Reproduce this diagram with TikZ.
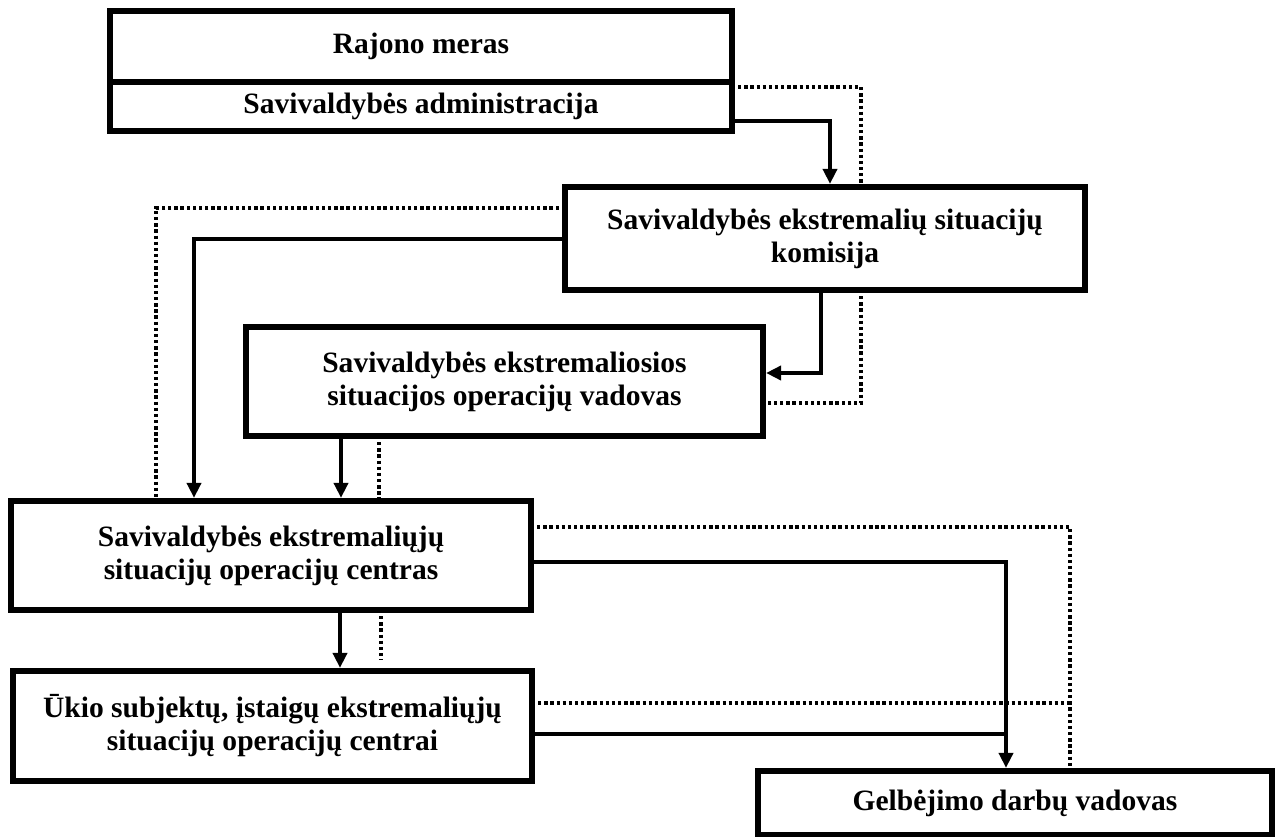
\documentclass[tikz,border=0pt]{standalone}
\usepackage{fontspec}
\setmainfont{Liberation Serif}
\usetikzlibrary{arrows.meta}

\begin{document}
\begin{tikzpicture}[x=0.02cm, y=-0.02cm,
  box/.style={draw, line width=3.8pt, inner sep=0pt, outer sep=0pt, align=center,
    font=\fontsize{16.8}{18.8}\selectfont\bfseries},
  link/.style={line width=2pt, -{Triangle[length=8.5pt,width=8pt]}, shorten >=1.8pt},
  dotlink/.style={line width=2pt, dash pattern=on 1.9pt off 1.6pt}]
\useasboundingbox (0,0) rectangle (1281,837);
% boxes
\node[box, minimum width=12.44cm, minimum height=1.42cm] (mer) at (421,46.5) {Rajono meras};
\node[box, minimum width=12.44cm, minimum height=0.98cm] (adm) at (421,106.5) {Savivaldybės administracija};
\node[box, minimum width=10.4cm, minimum height=2.06cm] (kom) at (825,238.5) {Savivaldybės ekstremalių situacijų\\komisija};
\node[box, minimum width=10.34cm, minimum height=2.18cm] (vad) at (504.5,381.5) {Savivaldybės ekstremaliosios\\situacijos operacijų vadovas};
\node[box, minimum width=10.4cm, minimum height=2.18cm] (cen) at (271,555.5) {Savivaldybės ekstremaliųjų\\situacijų operacijų centras};
\node[box, minimum width=10.38cm, minimum height=2.2cm] (uki) at (272.5,726) {Ūkio subjektų, įstaigų ekstremaliųjų\\situacijų operacijų centrai};
\node[box, minimum width=10.28cm, minimum height=1.28cm] (gel) at (1015,803) {Gelbėjimo darbų vadovas};
% turning points
\coordinate (t1) at (830,121);
\coordinate (t2) at (861,87);
\coordinate (t3) at (156,208);
\coordinate (t4) at (194,239);
\coordinate (t5) at (821,373);
\coordinate (t6) at (861,403);
\coordinate (t7) at (341,470);
\coordinate (t8) at (379,470);
\coordinate (t9) at (340,640);
\coordinate (t10) at (381,640);
\coordinate (t11) at (1070,527);
\coordinate (t12) at (1006,562);
\coordinate (t13) at (1070,703);
\coordinate (t14) at (1006,734);
% connectors
\draw[link] (adm.east |- t1) -| (kom.north -| t1);
\draw[dotlink] (adm.east |- t2) -| (kom.north -| t2);
\draw[dotlink] (kom.west |- t3) -| (cen.north -| t3);
\draw[link] (kom.west |- t4) -| (cen.north -| t4);
\draw[link] (kom.south -| t5) |- (vad.east |- t5);
\draw[dotlink] (kom.south -| t6) |- (vad.east |- t6);
\draw[link] (vad.south -| t7) -- (cen.north -| t7);
\draw[dotlink] (vad.south -| t8) -- (cen.north -| t8);
\draw[link] (cen.south -| t9) -- (uki.north -| t9);
\draw[dotlink, shorten >=6pt] (cen.south -| t10) -- (uki.north -| t10);
\draw[dotlink] (cen.east |- t11) -| (gel.north -| t11);
\draw[link] (cen.east |- t12) -| (gel.north -| t12);
\draw[dotlink] (uki.east |- t13) -- (t13);
\draw[line width=2pt] (uki.east |- t14) -- (t14);
\end{tikzpicture}
\end{document}
